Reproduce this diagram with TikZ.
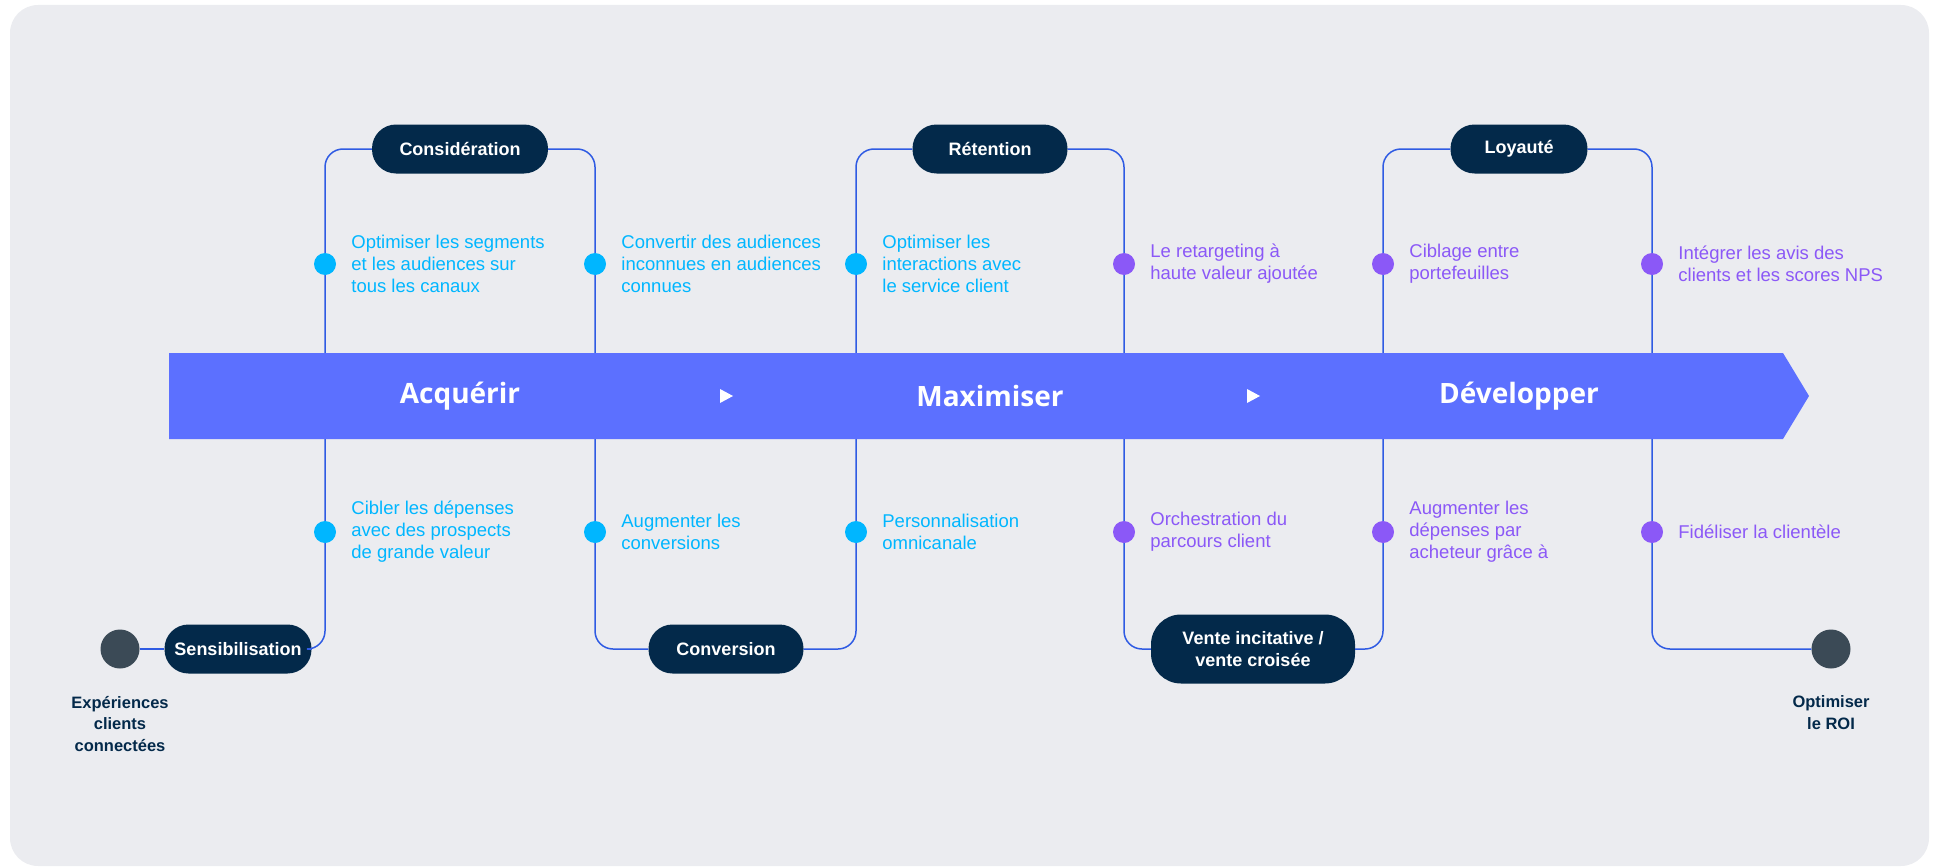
\documentclass[tikz,border=0pt]{standalone}
\usepackage{fontspec}
\setmainfont{Liberation Sans}
\newfontfamily\stagefont{Open Sans}
\usetikzlibrary{arrows, positioning}

\definecolor{bgGray}{HTML}{EBECF0}
\definecolor{bandBlue}{HTML}{5C70FF}
\definecolor{navyPill}{HTML}{03294A}
\definecolor{lineBlue}{HTML}{2F5BE3}
\definecolor{cyanGoal}{HTML}{00B6FF}
\definecolor{violetGoal}{HTML}{8B58F7}
\definecolor{endGray}{HTML}{3B4A56}

\begin{document}
\begin{tikzpicture}[x=1pt, y=-1pt,
    pill/.style={rectangle,
                 rounded corners=24pt,
                 fill=navyPill,
                 text=white,
                 inner sep=0pt,
                 minimum height=49pt,
                 align=center,
                 font=\fontsize{18}{21.5}\selectfont\bfseries},
    kpidot/.style={circle, fill=#1, inner sep=0pt, minimum size=22pt},
    enddot/.style={circle, fill=endGray, inner sep=0pt, minimum size=39pt},
    goaltext/.style={right=15pt of #1, anchor=west, align=left, inner sep=0pt,
                     font=\fontsize{18.5}{22}\selectfont},
    endtext/.style={text=navyPill, align=center, inner sep=0pt,
                    font=\fontsize{16.5}{21.5}\selectfont\bfseries},
    stage/.style={text=white, inner sep=0pt,
                  font=\stagefont\fontsize{28}{32}\selectfont\bfseries},
    link/.style={draw=lineBlue, line width=1.5pt, rounded corners=18pt}]

  \useasboundingbox (0,0) rectangle (1939,867);
  \fill[bgGray, rounded corners=28pt] (10,5) rectangle (1929,866);

  % Start and end of the journey
  \node[enddot] (StartDot) at (120,649) {};
  \node[enddot] (EndDot) at (1831,649) {};
  \node[endtext, below=27pt of StartDot] (StartText) {Expériences\\clients\\connectées};
  \node[endtext, below=27pt of EndDot] (EndText) {Optimiser\\le ROI};

  % Stages on top and bottom
  \node[pill, minimum width=147pt] (Sensibilisation) at (238,649) {Sensibilisation};
  \node[pill, minimum width=176pt] (Consideration) at (460,149) {Considération};
  \node[pill, minimum width=155pt] (Conversion) at (726,649) {Conversion};
  \node[pill, minimum width=155pt] (Retention) at (990,149) {Rétention};
  \node[pill, minimum width=204pt, minimum height=69pt, rounded corners=30pt]
        (Vente) at (1253,649) {Vente incitative /\\vente croisée};
  \node[pill, minimum width=137pt] (Loyaute) at (1519,149) {Loyauté};

  % Dots above the band
  \node[kpidot=cyanGoal] (DotA1) at (325,264) {};
  \node[kpidot=cyanGoal] (DotA2) at (595,264) {};
  \node[kpidot=cyanGoal] (DotA3) at (856,264) {};
  \node[kpidot=violetGoal] (DotA4) at (1124,264) {};
  \node[kpidot=violetGoal] (DotA5) at (1383,264) {};
  \node[kpidot=violetGoal] (DotA6) at (1652,264) {};

  % Dots below the band
  \node[kpidot=cyanGoal] (DotB1) at (325,532) {};
  \node[kpidot=cyanGoal] (DotB2) at (595,532) {};
  \node[kpidot=cyanGoal] (DotB3) at (856,532) {};
  \node[kpidot=violetGoal] (DotB4) at (1124,532) {};
  \node[kpidot=violetGoal] (DotB5) at (1383,532) {};
  \node[kpidot=violetGoal] (DotB6) at (1652,532) {};

  % Texts beside the dots
  \node[goaltext=DotA1, text=cyanGoal] (GoalA1) {Optimiser les segments\\et les audiences sur\\tous les canaux};
  \node[goaltext=DotA2, text=cyanGoal] (GoalA2) {Convertir des audiences\\inconnues en audiences\\connues};
  \node[goaltext=DotA3, text=cyanGoal] (GoalA3) {Optimiser les\\interactions avec\\le service client};
  \node[goaltext=DotA4, text=violetGoal] (GoalA4) {Le retargeting à\\haute valeur ajoutée};
  \node[goaltext=DotA5, text=violetGoal] (GoalA5) {Ciblage entre\\portefeuilles};
  \node[goaltext=DotA6, text=violetGoal] (GoalA6) {Intégrer les avis des\\clients et les scores NPS};
  \node[goaltext=DotB1, text=cyanGoal] (GoalB1) {Cibler les dépenses\\avec des prospects\\de grande valeur};
  \node[goaltext=DotB2, text=cyanGoal] (GoalB2) {Augmenter les\\conversions};
  \node[goaltext=DotB3, text=cyanGoal] (GoalB3) {Personnalisation\\omnicanale};
  \node[goaltext=DotB4, text=violetGoal] (GoalB4) {Orchestration du\\parcours client};
  \node[goaltext=DotB5, text=violetGoal] (GoalB5) {Augmenter les\\dépenses par\\acheteur grâce à};
  \node[goaltext=DotB6, text=violetGoal] (GoalB6) {Fidéliser la clientèle};

  % The winding line
  \draw[link] (StartDot) -- (Sensibilisation);
  \draw[link] (Sensibilisation.east) -| (DotB1) -- (DotA1) |- (Consideration.west);
  \draw[link] (Consideration.east) -| (DotA2) -- (DotB2) |- (Conversion.west);
  \draw[link] (Conversion.east) -| (DotB3) -- (DotA3) |- (Retention.west);
  \draw[link] (Retention.east) -| (DotA4) -- (DotB4) |- (Vente.west);
  \draw[link] (Vente.east) -| (DotB5) -- (DotA5) |- (Loyaute.west);
  \draw[link] (Loyaute.east) -| (DotA6) -- (DotB6) |- (EndDot);

  % Band over the line
  \fill[bandBlue] (169,353) -- (1783,353) -- (1809,396) -- (1783,439) -- (169,439) -- cycle;
  \node[stage] (Acquerir) at (460,396) {Acquérir};
  \node[stage] (Maximiser) at (990,396) {Maximiser};
  \node[stage] (Developper) at (1519,396) {Développer};
  \foreach \x in {726,1253}
    \fill[white] (\x-6,389) -- (\x+7,396) -- (\x-6,403) -- cycle;

\end{tikzpicture}
\end{document}
